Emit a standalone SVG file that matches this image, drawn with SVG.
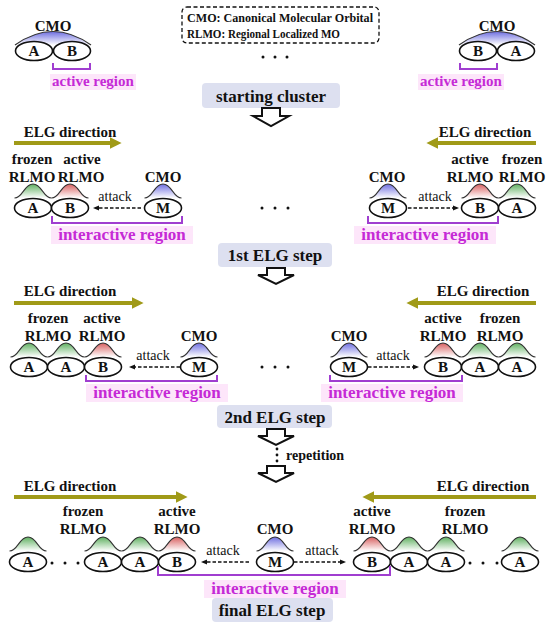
<svg xmlns="http://www.w3.org/2000/svg" xmlns:xlink="http://www.w3.org/1999/xlink" width="550" height="630" viewBox="0 0 550 630">
<style>
text{font-family:"Liberation Serif","Times New Roman",serif;fill:#111;text-anchor:middle}
.b{font-weight:bold;font-size:15px}
.t{font-size:14px}
.st{font-weight:bold;font-size:17px}
.leg{font-weight:bold;font-size:13px;text-anchor:start}
.mag{font-weight:bold;fill:#c52ad6}
.orb{fill:#fff;stroke:#111;stroke-width:1.6}
.lt{font-weight:bold;font-size:15px}
.lobe{stroke:#333;stroke-width:1.1}
.br{fill:none;stroke:#a03ed0;stroke-width:2}
.hl{fill:#fde6fa}
.box{fill:#dde0f0}
.elg{stroke:#a09a18;stroke-width:4;fill:none;marker-end:url(#oh)}
.att{stroke:#111;stroke-width:1.6;stroke-dasharray:3.5 2;fill:none;marker-end:url(#ah)}
.ho{fill:#fff;stroke:#111;stroke-width:2;stroke-linejoin:miter}
.dot{fill:#111}
</style>
<defs>
<linearGradient id="gG" x1="0" y1="0" x2="0" y2="1"><stop offset="0" stop-color="#5fb060"/><stop offset="1" stop-color="#ffffff"/></linearGradient>
<linearGradient id="gR" x1="0" y1="0" x2="0" y2="1"><stop offset="0" stop-color="#d86060"/><stop offset="1" stop-color="#ffffff"/></linearGradient>
<linearGradient id="gB" x1="0" y1="0" x2="0" y2="1"><stop offset="0" stop-color="#6e6ee0"/><stop offset="1" stop-color="#ffffff"/></linearGradient>
<path id="lobe" d="M-18.5,0 C-10,0 -9,-14 0,-14 C9,-14 10,0 18.5,0"/>
<ellipse id="orb" rx="18.5" ry="9.5"/>
<marker id="oh" viewBox="0 0 10 10" refX="2" refY="5" markerWidth="3" markerHeight="3" orient="auto"><path d="M0,0 L10,5 L0,10 Z" fill="#a09a18"/></marker>
<marker id="ah" viewBox="0 0 10 10" refX="2" refY="5" markerWidth="4" markerHeight="4" orient="auto"><path d="M0,1 L10,5 L0,9 Z" fill="#111"/></marker>
</defs>

<g id="legend">
<rect x="182" y="7" width="197" height="36" rx="5" fill="none" stroke="#111" stroke-width="1.3" stroke-dasharray="4 2.5"/>
<text class="leg" x="187" y="22" textLength="186" lengthAdjust="spacingAndGlyphs">CMO: Canonical Molecular Orbital</text>
<text class="leg" x="187" y="38" textLength="153" lengthAdjust="spacingAndGlyphs">RLMO: Regional Localized MO</text>
</g>

<g id="start-left">
<text class="lt" x="53" y="31">CMO</text>
<path d="M15,45 Q53,18 91,45" fill="url(#gB)" stroke="#333" stroke-width="1.2"/>
<use href="#orb" x="34" y="51" class="orb"/><text class="lt" x="34" y="56">A</text>
<use href="#orb" x="72" y="51" class="orb"/><text class="lt" x="72" y="56">B</text>
<path class="br" d="M53,63 V69 H90 V63"/>
<rect class="hl" x="50" y="74" width="86" height="16"/>
<text class="mag" font-size="15" x="93" y="86">active region</text>
</g>

<g id="start-right">
<text class="lt" x="497" y="31">CMO</text>
<path d="M459,45 Q497,18 535,45" fill="url(#gB)" stroke="#333" stroke-width="1.2"/>
<use href="#orb" x="478" y="51" class="orb"/><text class="lt" x="478" y="56">B</text>
<use href="#orb" x="516" y="51" class="orb"/><text class="lt" x="516" y="56">A</text>
<path class="br" d="M460,63 V69 H497 V63"/>
<rect class="hl" x="418" y="74" width="86" height="16"/>
<text class="mag" font-size="15" x="461" y="86">active region</text>
</g>

<g id="dots0"><circle class="dot" cx="263" cy="57" r="1.5"/><circle class="dot" cx="275" cy="57" r="1.5"/><circle class="dot" cx="287" cy="57" r="1.5"/></g>

<g id="step0">
<rect class="box" x="202" y="83" width="138" height="25" rx="4"/>
<text class="st" x="271" y="102">starting cluster</text>
</g>

<!-- step 1 -->
<g id="s1-left">
<text class="b" x="70" y="137">ELG direction</text>
<text class="b" x="32" y="164">frozen</text><text class="b" x="82" y="164">active</text>
<text class="b" x="32" y="182">RLMO</text><text class="b" x="81" y="182">RLMO</text>
<text class="b" x="163" y="182">CMO</text>
<use href="#lobe" x="33" y="198" fill="url(#gG)" class="lobe"/>
<use href="#lobe" x="70" y="198" fill="url(#gR)" class="lobe"/>
<use href="#lobe" x="163" y="198" fill="url(#gB)" class="lobe"/>
<use href="#orb" x="33" y="208" class="orb"/><text class="lt" x="33" y="213">A</text>
<use href="#orb" x="70" y="208" class="orb"/><text class="lt" x="70" y="213">B</text>
<use href="#orb" x="163" y="208" class="orb"/><text class="lt" x="163" y="213">M</text>
<text class="t" x="115" y="201">attack</text>
<path class="br" d="M52,216 V223 H182 V216"/>
<rect class="hl" x="51" y="226" width="142" height="18"/>
<text class="mag" font-size="17" x="122" y="240">interactive region</text>
</g>

<g id="s1-right">
<text class="b" x="485" y="137">ELG direction</text>
<text class="b" x="470" y="164">active</text><text class="b" x="522" y="164">frozen</text>
<text class="b" x="470" y="182">RLMO</text><text class="b" x="522" y="182">RLMO</text>
<text class="b" x="387" y="182">CMO</text>
<use href="#lobe" x="388" y="198" fill="url(#gB)" class="lobe"/>
<use href="#lobe" x="480" y="198" fill="url(#gR)" class="lobe"/>
<use href="#lobe" x="517" y="198" fill="url(#gG)" class="lobe"/>
<use href="#orb" x="388" y="208" class="orb"/><text class="lt" x="388" y="213">M</text>
<use href="#orb" x="480" y="208" class="orb"/><text class="lt" x="480" y="213">B</text>
<use href="#orb" x="517" y="208" class="orb"/><text class="lt" x="517" y="213">A</text>
<text class="t" x="435" y="201">attack</text>
<path class="br" d="M368,216 V223 H498 V216"/>
<rect class="hl" x="354" y="226" width="142" height="18"/>
<text class="mag" font-size="17" x="425" y="240">interactive region</text>
</g>

<g id="dots1"><circle class="dot" cx="262" cy="208" r="1.5"/><circle class="dot" cx="275" cy="208" r="1.5"/><circle class="dot" cx="288" cy="208" r="1.5"/></g>

<g id="step1">
<rect class="box" x="218" y="243" width="114" height="24" rx="4"/>
<text class="st" x="275" y="261">1st ELG step</text>
</g>

<!-- step 2 -->
<g id="s2-left">
<text class="b" x="70" y="296">ELG direction</text>
<text class="b" x="48" y="323">frozen</text><text class="b" x="102" y="323">active</text>
<text class="b" x="48" y="341">RLMO</text><text class="b" x="102" y="341">RLMO</text>
<text class="b" x="199" y="341">CMO</text>
<use href="#lobe" x="29" y="357" fill="url(#gG)" class="lobe"/>
<use href="#lobe" x="66" y="357" fill="url(#gG)" class="lobe"/>
<use href="#lobe" x="103" y="357" fill="url(#gR)" class="lobe"/>
<use href="#lobe" x="199" y="357" fill="url(#gB)" class="lobe"/>
<use href="#orb" x="29" y="367" class="orb"/><text class="lt" x="29" y="372">A</text>
<use href="#orb" x="66" y="367" class="orb"/><text class="lt" x="66" y="372">A</text>
<use href="#orb" x="103" y="367" class="orb"/><text class="lt" x="103" y="372">B</text>
<use href="#orb" x="199" y="367" class="orb"/><text class="lt" x="199" y="372">M</text>
<text class="t" x="153" y="360">attack</text>
<path class="br" d="M86,375 V381 H217 V375"/>
<rect class="hl" x="86" y="384" width="142" height="18"/>
<text class="mag" font-size="17" x="157" y="398">interactive region</text>
</g>

<g id="s2-right">
<text class="b" x="483" y="296">ELG direction</text>
<text class="b" x="443" y="323">active</text><text class="b" x="500" y="323">frozen</text>
<text class="b" x="443" y="341">RLMO</text><text class="b" x="500" y="341">RLMO</text>
<text class="b" x="349" y="341">CMO</text>
<use href="#lobe" x="349" y="357" fill="url(#gB)" class="lobe"/>
<use href="#lobe" x="443" y="357" fill="url(#gR)" class="lobe"/>
<use href="#lobe" x="480" y="357" fill="url(#gG)" class="lobe"/>
<use href="#lobe" x="517" y="357" fill="url(#gG)" class="lobe"/>
<use href="#orb" x="349" y="367" class="orb"/><text class="lt" x="349" y="372">M</text>
<use href="#orb" x="443" y="367" class="orb"/><text class="lt" x="443" y="372">B</text>
<use href="#orb" x="480" y="367" class="orb"/><text class="lt" x="480" y="372">A</text>
<use href="#orb" x="517" y="367" class="orb"/><text class="lt" x="517" y="372">A</text>
<text class="t" x="393" y="360">attack</text>
<path class="br" d="M330,375 V381 H462 V375"/>
<rect class="hl" x="321" y="384" width="142" height="18"/>
<text class="mag" font-size="17" x="392" y="398">interactive region</text>
</g>

<g id="dots2"><circle class="dot" cx="262" cy="367" r="1.5"/><circle class="dot" cx="275" cy="367" r="1.5"/><circle class="dot" cx="288" cy="367" r="1.5"/></g>

<g id="step2">
<rect class="box" x="217" y="405" width="115" height="23" rx="4"/>
<text class="st" x="275" y="423">2nd ELG step</text>
</g>

<g id="repetition">
<circle class="dot" cx="277" cy="449" r="1.4"/><circle class="dot" cx="277" cy="455" r="1.4"/><circle class="dot" cx="277" cy="461" r="1.4"/>
<text class="b" x="286" y="460" style="text-anchor:start;font-size:14px">repetition</text>
</g>

<!-- final -->
<g id="s3-left">
<text class="b" x="70" y="491">ELG direction</text>
<text class="b" x="83" y="516">frozen</text><text class="b" x="177" y="516">active</text>
<text class="b" x="83" y="534">RLMO</text><text class="b" x="177" y="534">RLMO</text>
<use href="#lobe" x="28" y="551" fill="url(#gG)" class="lobe"/>
<use href="#lobe" x="103" y="551" fill="url(#gG)" class="lobe"/>
<use href="#lobe" x="140" y="551" fill="url(#gG)" class="lobe"/>
<use href="#lobe" x="177" y="551" fill="url(#gR)" class="lobe"/>
<use href="#orb" x="28" y="562" class="orb"/><text class="lt" x="28" y="567">A</text>
<circle class="dot" cx="52" cy="563" r="1.5"/><circle class="dot" cx="65" cy="563" r="1.5"/><circle class="dot" cx="78" cy="563" r="1.5"/>
<use href="#orb" x="103" y="562" class="orb"/><text class="lt" x="103" y="567">A</text>
<use href="#orb" x="140" y="562" class="orb"/><text class="lt" x="140" y="567">A</text>
<use href="#orb" x="177" y="562" class="orb"/><text class="lt" x="177" y="567">B</text>
<text class="t" x="223" y="555">attack</text>
</g>

<g id="s3-center">
<text class="b" x="275" y="534">CMO</text>
<use href="#lobe" x="275" y="551" fill="url(#gB)" class="lobe"/>
<use href="#orb" x="275" y="562" class="orb"/><text class="lt" x="275" y="567">M</text>
</g>

<g id="s3-right">
<text class="b" x="483" y="491">ELG direction</text>
<text class="b" x="372" y="516">active</text><text class="b" x="465" y="516">frozen</text>
<text class="b" x="372" y="534">RLMO</text><text class="b" x="465" y="534">RLMO</text>
<use href="#lobe" x="372" y="551" fill="url(#gR)" class="lobe"/>
<use href="#lobe" x="409" y="551" fill="url(#gG)" class="lobe"/>
<use href="#lobe" x="446" y="551" fill="url(#gG)" class="lobe"/>
<use href="#lobe" x="520" y="551" fill="url(#gG)" class="lobe"/>
<use href="#orb" x="372" y="562" class="orb"/><text class="lt" x="372" y="567">B</text>
<use href="#orb" x="409" y="562" class="orb"/><text class="lt" x="409" y="567">A</text>
<use href="#orb" x="446" y="562" class="orb"/><text class="lt" x="446" y="567">A</text>
<circle class="dot" cx="470" cy="563" r="1.5"/><circle class="dot" cx="483" cy="563" r="1.5"/><circle class="dot" cx="497" cy="563" r="1.5"/>
<use href="#orb" x="520" y="562" class="orb"/><text class="lt" x="520" y="567">A</text>
<text class="t" x="322" y="555">attack</text>
</g>

<g id="s3-region">
<path class="br" d="M158,566 V575 H390 V566"/>
<rect class="hl" x="204" y="580" width="142" height="18"/>
<text class="mag" font-size="17" x="275" y="594">interactive region</text>
</g>

<g id="step3">
<rect class="box" x="212" y="598" width="121" height="24" rx="4"/>
<text class="st" x="272" y="616">final ELG step</text>
</g>

<g id="connectors">
<polygon class="ho" points="262,108 280,108 280,116 289,116 271,126 253,116 262,116"/>
<polygon class="ho" points="267,268 285,268 285,275 294,275 276,284 258,275 267,275"/>
<polygon class="ho" points="267,429 285,429 285,436 294,436 276,445 258,436 267,436"/>
<polygon class="ho" points="267,466 285,466 285,473 294,473 276,482 258,473 267,473"/>
<line class="elg" x1="14" y1="143" x2="112" y2="143"/>
<line class="elg" x1="536" y1="143" x2="436" y2="143"/>
<line class="elg" x1="14" y1="303" x2="134" y2="303"/>
<line class="elg" x1="536" y1="303" x2="416" y2="303"/>
<line class="elg" x1="14" y1="497" x2="178" y2="497"/>
<line class="elg" x1="536" y1="497" x2="372" y2="497"/>
<line class="att" x1="141" y1="208" x2="98" y2="208"/>
<line class="att" x1="408" y1="208" x2="454" y2="208"/>
<line class="att" x1="180" y1="367" x2="134" y2="367"/>
<line class="att" x1="368" y1="367" x2="414" y2="367"/>
<line class="att" x1="249" y1="562" x2="206" y2="562"/>
<line class="att" x1="294" y1="562" x2="341" y2="562"/>
</g>
</svg>
